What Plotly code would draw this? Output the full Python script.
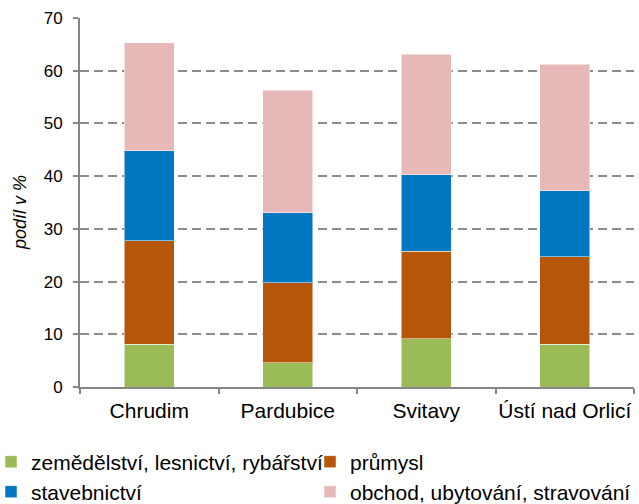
import plotly.graph_objects as go

categories = ["Chrudim", "Pardubice", "Svitavy", "Ústí nad Orlicí"]
series_names = ["zemědělství, lesnictví, rybářství", "průmysl", "stavebnictví", "obchod, ubytování, stravování"]
zemedelstvi = [8.1, 4.6, 9.2, 8.1]
prumysl = [19.6, 15.2, 16.6, 16.6]
stavebnictvi = [17.1, 13.3, 14.5, 12.5]
obchod = [20.5, 23.2, 22.8, 24.0]
y_ticks = [0, 10, 20, 30, 40, 50, 60, 70]

colors = ["#9BBB59", "#B55608", "#0077C0", "#E6B9B8"]
values = [zemedelstvi, prumysl, stavebnictvi, obchod]
legends = ["legend", "legend2", "legend3", "legend4"]

FONT = "Liberation Sans, Arial, sans-serif"

fig = go.Figure()
for name, vals, col, lg in zip(series_names, values, colors, legends):
    fig.add_trace(go.Bar(
        x=categories, y=vals, name=name,
        marker=dict(color=col, line=dict(color="rgba(255,255,255,0.5)", width=1)),
        legend=lg, showlegend=True,
    ))

grid_col = "#8C8C8C"
axis_col = "#868686"

# plot area: x 80..634, y 18..387
L, R, T, B = 80, 5, 18, 117
W, H = 639, 504
pw, ph = W - L - R, H - T - B


def px_x(x):
    return (x - L) / pw


def px_y(y):
    return (H - B - y) / ph


def leg(xpx, ypx):
    return dict(
        orientation="h", x=px_x(xpx), xanchor="left", y=px_y(ypx), yanchor="middle",
        font=dict(size=21, family=FONT), itemclick=False,
        bgcolor="rgba(0,0,0,0)", borderwidth=0, visible=True,
    )


fig.update_layout(
    barmode="stack",
    bargap=0.64,
    showlegend=True,
    width=W, height=H,
    margin=dict(l=L, r=R, t=T, b=B, autoexpand=False),
    paper_bgcolor="white", plot_bgcolor="white",
    font=dict(family=FONT, color="#000000", size=18),
    xaxis=dict(
        showline=True, linecolor=axis_col, linewidth=2,
        ticks="outside", tickson="boundaries", ticklen=5, tickcolor=axis_col, tickwidth=2,
        ticklabelstandoff=4,
        tickfont=dict(size=21, family=FONT), tickangle=0,
        showgrid=False, automargin=False,
    ),
    yaxis=dict(
        range=[0, 70], tickvals=y_ticks,
        showline=True, linecolor=axis_col, linewidth=2,
        ticks="outside", ticklen=5, tickcolor=axis_col, tickwidth=2,
        ticklabelstandoff=7,
        tickfont=dict(size=17, family=FONT),
        showgrid=True, gridcolor=grid_col, gridwidth=2, griddash="9px,5px",
        zeroline=False, automargin=False,
    ),
    legend=leg(-9, 462),
    legend2=leg(310, 462),
    legend3=leg(-9, 492),
    legend4=leg(310, 492),
    annotations=[dict(
        text="<i>podíl v %</i>", xref="paper", yref="paper",
        x=px_x(20), y=px_y(213), xanchor="center", yanchor="middle",
        textangle=-90, showarrow=False, font=dict(size=18, family=FONT),
    )],
)

fig.write_html("out.html", config={"displayModeBar": False},
               post_script="document.body.style.margin='0';")
